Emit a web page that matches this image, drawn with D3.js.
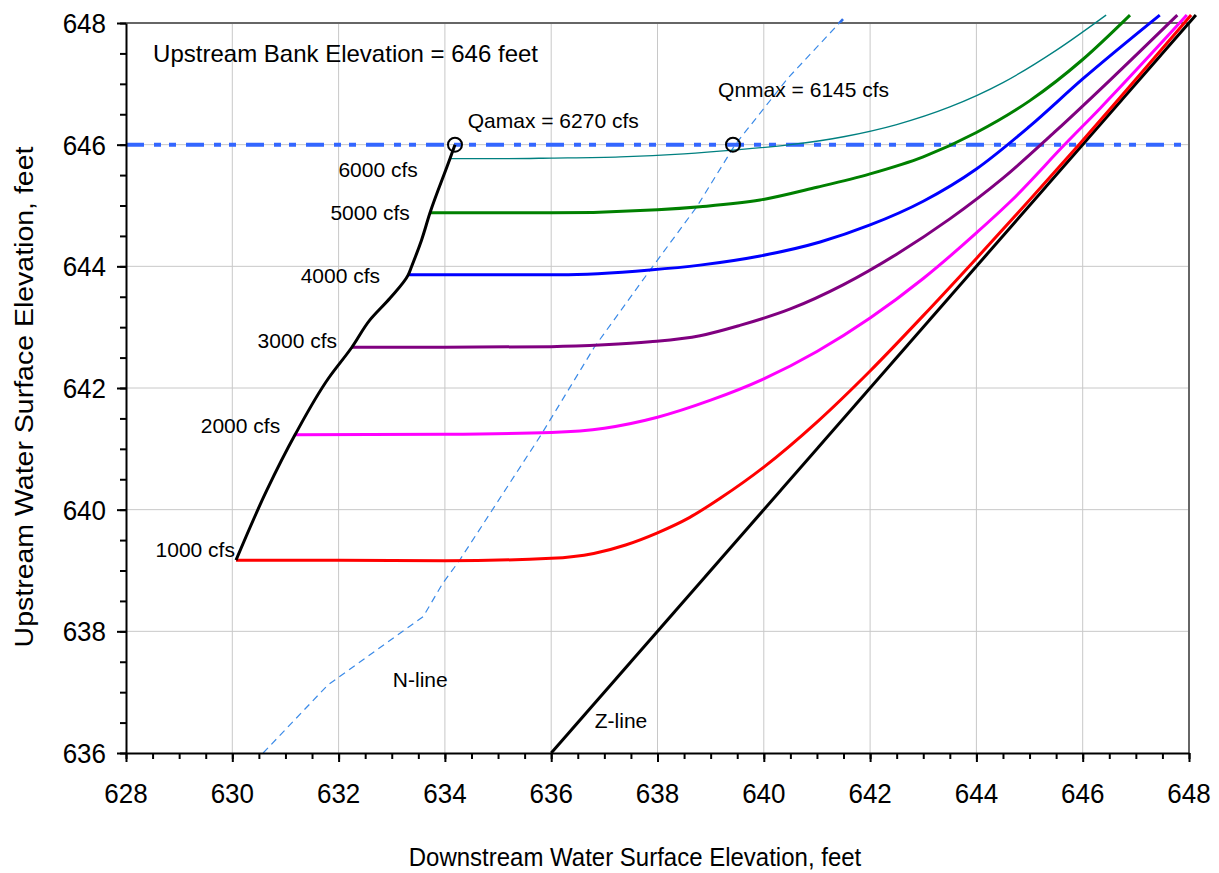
<!DOCTYPE html>
<html>
<head>
<meta charset="utf-8">
<script src="https://cdn.jsdelivr.net/npm/d3@7"></script>
<style>
body{margin:0;background:#fff}
text{font-family:"Liberation Sans",Arial,sans-serif;fill:#000}
</style>
</head>
<body>
<svg id="chart" width="1219" height="873"></svg>
<script>
// axis ticks
var xTicks = [628, 630, 632, 634, 636, 638, 640, 642, 644, 646, 648];
var yTicks = [636, 638, 640, 642, 644, 646, 648];

// upstream elevation vs downstream elevation, one curve per discharge
var q1000 = [[630.07,639.17],[632,639.17],[634,639.16],[636,639.2],[636.8,639.28],[637.4,639.42],[638,639.62],[638.6,639.87],[639.2,640.2],[640,640.7],[641,641.44],[642,642.28],[643,643.19],[644,644.13],[645,645.09],[645.95,646.02],[648.04,648.13]];
var q2000 = [[631.18,641.23],[634,641.24],[636,641.27],[637,641.34],[638,641.52],[639,641.8],[640,642.15],[641,642.6],[642,643.15],[643,643.8],[644,644.55],[644.67,645.09],[645.67,646.01],[646.33,646.6],[647.96,648.13]];
var q3000 = [[632.25,642.67],[634,642.67],[636,642.68],[637,642.71],[637.86,642.76],[638.8,642.86],[639.55,643.03],[640.5,643.3],[641.5,643.7],[642.5,644.2],[643.5,644.78],[644.5,645.45],[645.5,646.23],[646.5,647.05],[647.78,648.13]];
var q4000 = [[633.31,643.86],[636.17,643.86],[637.86,643.94],[638.8,644.02],[639.93,644.17],[641.06,644.4],[642,644.68],[643,645.07],[644,645.6],[645,646.3],[646,647.08],[647.45,648.13]];
var q5000 = [[633.72,644.88],[636,644.88],[638,644.93],[638.8,644.98],[639.93,645.09],[641,645.3],[642,645.52],[643,645.8],[644,646.2],[645,646.72],[646,647.4],[646.89,648.13]];
var q6000 = [[634.1,645.77],[635,645.77],[636,645.78],[637.3,645.8],[638.5,645.85],[639.42,645.91],[640.5,646.0],[641.5,646.13],[642.5,646.33],[643.5,646.62],[644.5,647.02],[645.5,647.55],[646.44,648.13]];

// rating curve through the start of each discharge curve
var ratingCurve = [[630.07,639.17],[630.65,640.32],[631.18,641.23],[631.81,642.16],[632.25,642.67],[632.59,643.12],[632.97,643.48],[633.31,643.86],[633.37,643.99],[633.56,644.43],[633.72,644.88],[634.1,645.78],[634.19,646.0]];
var nLine = [[630.58,636.0],[631.8,637.12],[633.59,638.24],[633.96,638.79],[634.27,639.16],[635.81,641.23],[636.81,642.67],[637.82,643.89],[638.74,644.98],[639.46,646.0],[640.46,647.1],[641.53,648.1]];
var zLine = [[636,636],[648.13,648.13]];

var bankElevation = 646;
var qamax = [634.19, 646.0];
var qnmax = [639.42, 646.0];

var flowLabels = ["1000 cfs", "2000 cfs", "3000 cfs", "4000 cfs", "5000 cfs", "6000 cfs"];
var flowLabelAt = [[630.05,639.22],[630.9,641.26],[631.97,642.66],[632.78,643.73],[633.34,644.76],[633.49,645.47]];

var svg = d3.select("#chart");
var x = d3.scaleLinear().domain([628, 648]).range([126, 1189]);
var y = d3.scaleLinear().domain([636, 648]).range([753, 23]);

var defs = svg.append("defs");
defs.append("clipPath").attr("id", "inside").append("rect")
  .attr("x", 0).attr("y", y(648)).attr("width", 1219).attr("height", 873);
defs.append("clipPath").attr("id", "above").append("rect")
  .attr("x", 0).attr("y", 0).attr("width", 1219).attr("height", y(648));

// grid
svg.append("g").selectAll("line").data(xTicks.slice(1, -1)).enter().append("line")
  .attr("x1", function(d){ return x(d); }).attr("x2", function(d){ return x(d); })
  .attr("y1", y(636)).attr("y2", y(648))
  .attr("stroke", "#c8c8c8").attr("stroke-width", 1);
svg.append("g").selectAll("line").data(yTicks.slice(1, -1)).enter().append("line")
  .attr("x1", x(628)).attr("x2", x(648))
  .attr("y1", function(d){ return y(d); }).attr("y2", function(d){ return y(d); })
  .attr("stroke", "#c8c8c8").attr("stroke-width", 1);

// frame top and right
svg.append("path")
  .attr("d", "M" + x(628) + "," + y(648) + "H" + x(648) + "V" + y(636))
  .attr("fill", "none").attr("stroke", "#666").attr("stroke-width", 2);

// bank elevation line
svg.append("line")
  .attr("x1", x(628)).attr("x2", x(648))
  .attr("y1", y(bankElevation)).attr("y2", y(bankElevation))
  .attr("stroke", "#3366ff").attr("stroke-width", 4)
  .attr("stroke-dasharray", "18,10,7,8,7,10");

var line = d3.line().x(function(d){ return x(d[0]); }).y(function(d){ return y(d[1]); });

// N-line: thin inside the plot, heavier where it runs past the top
svg.append("path").datum(nLine).attr("d", line).attr("clip-path", "url(#inside)")
  .attr("fill", "none").attr("stroke", "#3a8ae8").attr("stroke-width", 1.2)
  .attr("stroke-dasharray", "7,5");
svg.append("path").datum(nLine).attr("d", line).attr("clip-path", "url(#above)")
  .attr("fill", "none").attr("stroke", "#2f6fe6").attr("stroke-width", 2.6)
  .attr("stroke-dasharray", "7,5");

svg.append("path").datum(zLine).attr("d", line)
  .attr("fill", "none").attr("stroke", "#000").attr("stroke-width", 3);

var smooth = d3.line().curve(d3.curveMonotoneX)
  .x(function(d){ return x(d[0]); }).y(function(d){ return y(d[1]); });

var curves = [
  {pts: q1000, color: "#ff0000", w: 3},
  {pts: q2000, color: "#ff00ff", w: 3},
  {pts: q3000, color: "#800080", w: 3},
  {pts: q4000, color: "#0000ff", w: 3},
  {pts: q5000, color: "#008000", w: 3},
  {pts: q6000, color: "#008080", w: 1.3}
];
curves.forEach(function(c){
  svg.append("path").datum(c.pts).attr("d", smooth)
    .attr("fill", "none").attr("stroke", c.color).attr("stroke-width", c.w);
});

svg.append("path").datum(ratingCurve)
  .attr("d", d3.line().curve(d3.curveMonotoneY)
    .x(function(d){ return x(d[0]); }).y(function(d){ return y(d[1]); }))
  .attr("fill", "none").attr("stroke", "#000").attr("stroke-width", 3);

[qamax, qnmax].forEach(function(p){
  svg.append("circle").attr("cx", x(p[0])).attr("cy", y(p[1])).attr("r", 7)
    .attr("fill", "none").attr("stroke", "#000").attr("stroke-width", 2);
});

// axes
var xMinor = d3.range(628, 648.01, 0.5);
var yMinor = d3.range(636, 648.01, 0.5);
svg.append("g").attr("transform", "translate(0," + y(636) + ")")
  .call(d3.axisBottom(x).tickValues(xMinor).tickSize(6).tickFormat(""))
  .call(function(g){ g.select(".domain").remove(); });
svg.append("g").attr("transform", "translate(0," + y(636) + ")")
  .call(d3.axisBottom(x).tickValues(xTicks).tickSize(9).tickSizeOuter(0).tickFormat(""));
svg.append("g").attr("transform", "translate(" + x(628) + ",0)")
  .call(d3.axisLeft(y).tickValues(yMinor).tickSize(6).tickFormat(""))
  .call(function(g){ g.select(".domain").remove(); });
svg.append("g").attr("transform", "translate(" + x(628) + ",0)")
  .call(d3.axisLeft(y).tickValues(yTicks).tickSize(9).tickSizeOuter(0).tickFormat(""));
svg.selectAll(".domain, .tick line").attr("stroke", "#000").attr("stroke-width", 2);

function label(px, py, str, size, anchor, sy){
  return svg.append("text")
    .attr("transform", "translate(" + px + "," + py + ") scale(1," + (sy || 1) + ")")
    .attr("text-anchor", anchor || "start")
    .style("font-size", size + "px")
    .text(str);
}

xTicks.forEach(function(d){ label(x(d), 803, d, 26, "middle", 1.05); });
yTicks.forEach(function(d){ label(106, y(d) + 10, d, 26, "end", 1.05); });

label(635, 866, "Downstream Water Surface Elevation, feet", 24, "middle", 1.1);
svg.append("text")
  .attr("transform", "translate(33,397) rotate(-90) scale(1.14,1)")
  .attr("text-anchor", "middle").style("font-size", "25px")
  .text("Upstream Water Surface Elevation, feet");

label(x(628.51), y(647.36), "Upstream Bank Elevation = " + bankElevation + " feet", 24, "start", 1);
flowLabels.forEach(function(t, i){
  label(x(flowLabelAt[i][0]), y(flowLabelAt[i][1]), t, 21, "end", 1);
});
label(x(634.43), y(646.27), "Qamax = 6270 cfs", 21, "start", 1);
label(x(639.14), y(646.78), "Qnmax = 6145 cfs", 21, "start", 1);
label(x(633.02), y(637.09), "N-line", 21, "start", 1);
label(x(636.82), y(636.41), "Z-line", 21, "start", 1);
</script>
</body>
</html>
